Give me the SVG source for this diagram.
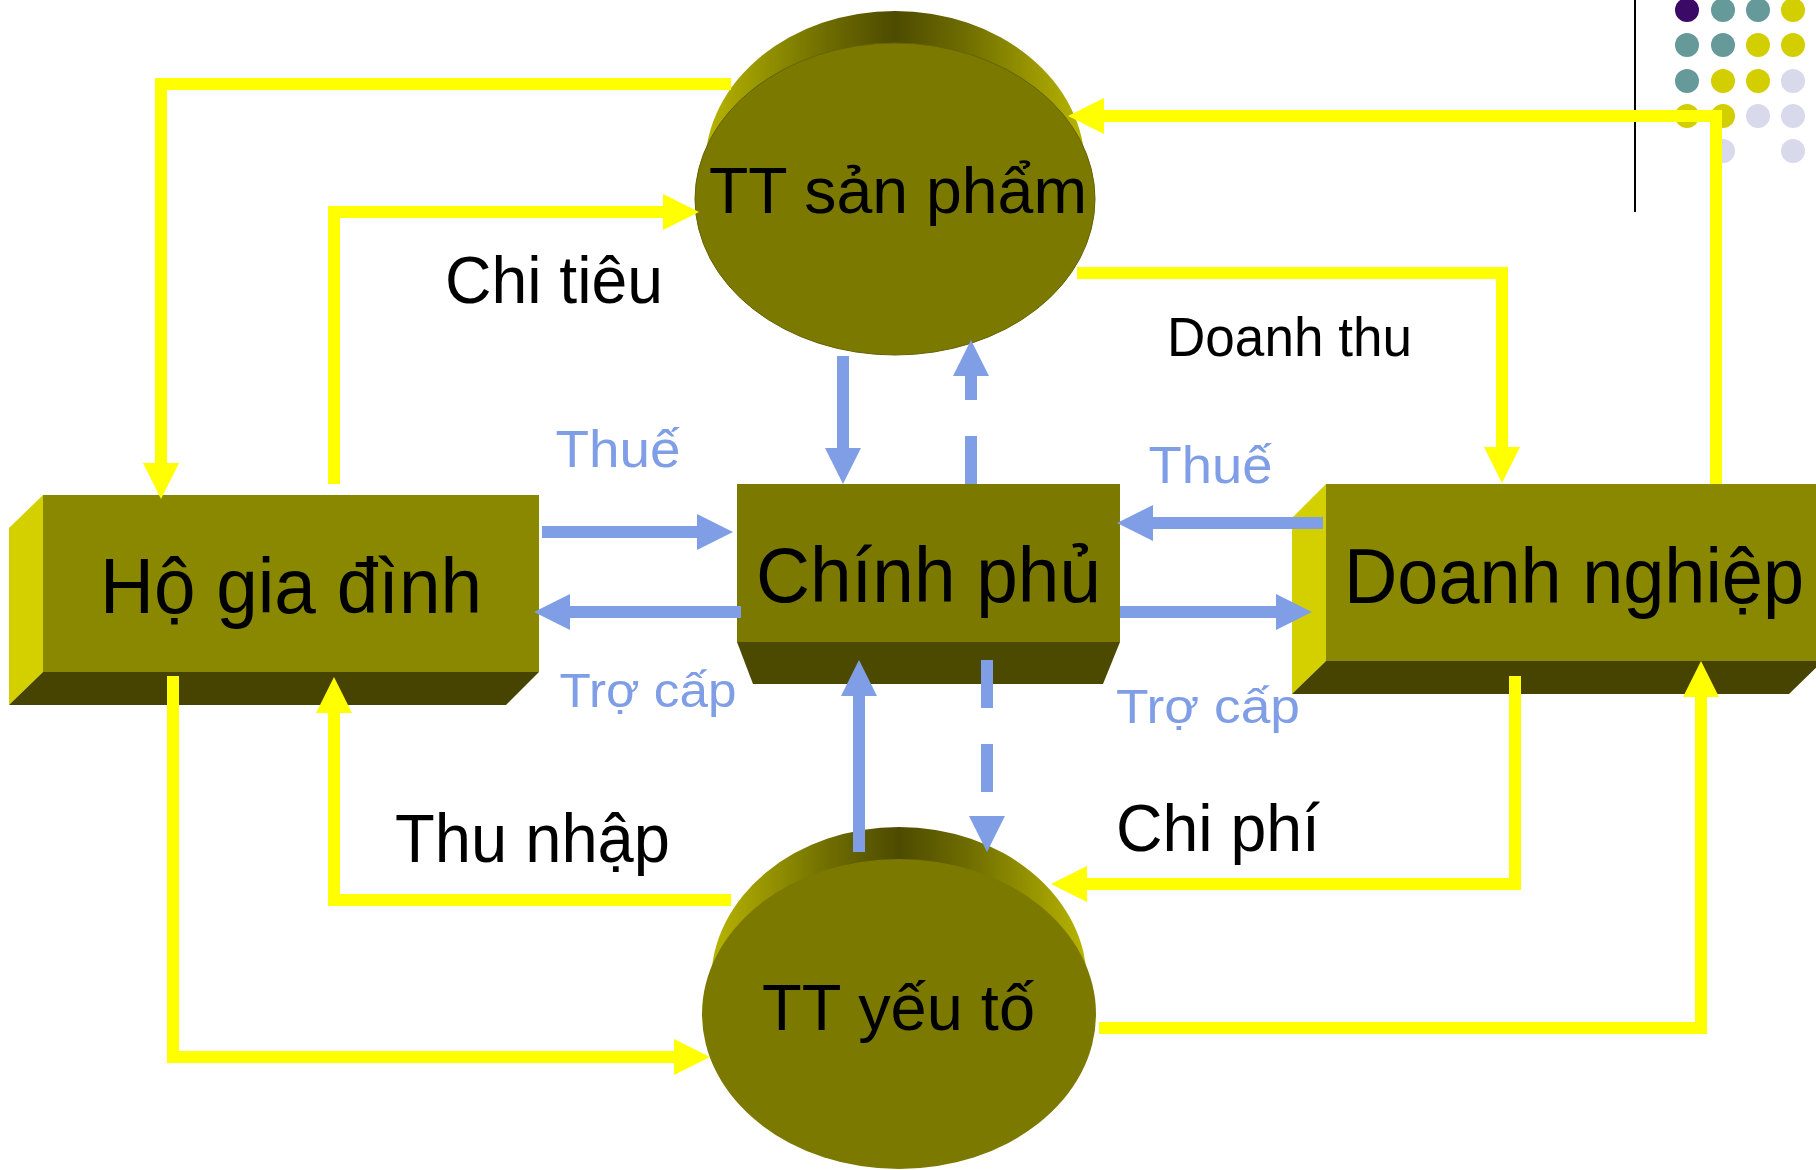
<svg xmlns="http://www.w3.org/2000/svg" width="1816" height="1170" viewBox="0 0 1816 1170">
<style>
  text { font-family: "Liberation Sans", Arial, sans-serif; text-anchor: middle; }
  .node { fill: #000000; }
  .blk { fill: #000000; }
  .blu { fill: #7f9ee6; }
  .y { stroke: #ffff00; stroke-width: 12; fill: none; stroke-linejoin: miter; marker-end: url(#ay); }
  .b { stroke: #7f9ee6; stroke-width: 12; fill: none; marker-end: url(#ab); }
  .d { stroke-dasharray: 48 36; }
  .side { fill: #d4d000; }
  .bot { fill: #464400; }
  .front { fill: #8a8800; }
</style>
<defs>
  <marker id="ay" markerUnits="userSpaceOnUse" markerWidth="36" markerHeight="36" viewBox="0 0 36 36" refX="0" refY="18" orient="auto">
    <path d="M0,0 L36,18 L0,36 z" fill="#ffff00"/>
  </marker>
  <marker id="ab" markerUnits="userSpaceOnUse" markerWidth="36" markerHeight="36" viewBox="0 0 36 36" refX="0" refY="18" orient="auto">
    <path d="M0,0 L36,18 L0,36 z" fill="#7f9ee6"/>
  </marker>
  <linearGradient id="cyl" x1="0" y1="0" x2="1" y2="0">
    <stop offset="0" stop-color="#b8b400"/>
    <stop offset="0.15" stop-color="#969400"/>
    <stop offset="0.32" stop-color="#6e6c00"/>
    <stop offset="0.5" stop-color="#4d4b00"/>
    <stop offset="0.68" stop-color="#6e6c00"/>
    <stop offset="0.85" stop-color="#969400"/>
    <stop offset="1" stop-color="#b8b400"/>
  </linearGradient>
</defs>
<rect x="0" y="0" width="1816" height="1170" fill="#ffffff"/>

<g id="decor">
  <line x1="1635" y1="0" x2="1635" y2="212" stroke="#000000" stroke-width="2"/>
  <circle cx="1687" cy="10" r="12" fill="#3a0a66"/>
  <circle cx="1723" cy="10" r="12" fill="#669999"/>
  <circle cx="1758" cy="10" r="12" fill="#669999"/>
  <circle cx="1793" cy="10" r="12" fill="#d2ce00"/>
  <circle cx="1687" cy="45" r="12" fill="#669999"/>
  <circle cx="1723" cy="45" r="12" fill="#669999"/>
  <circle cx="1758" cy="45" r="12" fill="#d2ce00"/>
  <circle cx="1793" cy="45" r="12" fill="#d2ce00"/>
  <circle cx="1687" cy="81" r="12" fill="#669999"/>
  <circle cx="1723" cy="81" r="12" fill="#d2ce00"/>
  <circle cx="1758" cy="81" r="12" fill="#d2ce00"/>
  <circle cx="1793" cy="81" r="12" fill="#d9d9ec"/>
  <circle cx="1687" cy="116" r="12" fill="#d2ce00"/>
  <circle cx="1723" cy="116" r="12" fill="#d2ce00"/>
  <circle cx="1758" cy="116" r="12" fill="#d9d9ec"/>
  <circle cx="1793" cy="116" r="12" fill="#d9d9ec"/>
  <circle cx="1723" cy="151" r="12" fill="#d9d9ec"/>
  <circle cx="1793" cy="151" r="12" fill="#d9d9ec"/>
</g>

<g id="tt-san-pham">
  <ellipse cx="895" cy="167" rx="190" ry="156" fill="url(#cyl)"/>
  <ellipse cx="895" cy="199" rx="200" ry="156" fill="#7b7900" stroke="#666400" stroke-width="1"/>
  <text x="898" y="213" font-size="65" textLength="378" lengthAdjust="spacingAndGlyphs" class="node">TT sản phẩm</text>
</g>

<g id="tt-yeu-to">
  <ellipse cx="899" cy="982" rx="188" ry="155" fill="url(#cyl)"/>
  <ellipse cx="899" cy="1014" rx="197" ry="155" fill="#7b7900"/>
  <text x="898.5" y="1030" font-size="65" textLength="273" lengthAdjust="spacingAndGlyphs" class="node">TT yếu tố</text>
</g>

<g id="ho-gia-dinh">
  <polygon class="side" points="9,528 43,495 43,672 9,705"/>
  <polygon class="bot" points="43,672 539,672 506,705 9,705"/>
  <rect class="front" x="43" y="495" width="496" height="177"/>
  <text x="291" y="613" font-size="77" textLength="382" lengthAdjust="spacingAndGlyphs" class="node">Hộ gia đình</text>
</g>

<g id="chinh-phu">
  <polygon fill="#4c4a00" points="737,642 1120,642 1103,684 753,684"/>
  <rect fill="#7b7900" x="737" y="484" width="383" height="158"/>
  <text x="928.5" y="602" font-size="77" textLength="345" lengthAdjust="spacingAndGlyphs" class="node">Chính phủ</text>
</g>

<g id="doanh-nghiep">
  <polygon class="side" points="1292,518 1326,484 1326,661 1292,694"/>
  <polygon class="bot" points="1326,661 1823,661 1789,694 1292,694"/>
  <rect class="front" x="1326" y="484" width="497" height="177"/>
  <text x="1574" y="603" font-size="77" textLength="460" lengthAdjust="spacingAndGlyphs" class="node">Doanh nghiệp</text>
</g>

<g id="connectors">
  <path class="y" d="M731,84 H161 V463"/>
  <path class="y" d="M334,484 V212 H663"/>
  <path class="y" d="M1716,484 V116 H1104"/>
  <path class="y" d="M1077,273 H1502 V447"/>
  <path class="y" d="M1515,676 V884 H1087"/>
  <path class="y" d="M1099,1028 H1701 V697"/>
  <path class="y" d="M731,900 H334 V713"/>
  <path class="y" d="M173,676 V1057 H674"/>
  <path class="b" d="M843,356 V448"/>
  <path class="b d" d="M971,484 V376"/>
  <path class="b" d="M859,852 V696"/>
  <path class="b d" d="M987,660 V816"/>
  <path class="b" d="M542,532 H697"/>
  <path class="b" d="M741,612 H570"/>
  <path class="b" d="M1323,523 H1153"/>
  <path class="b" d="M1120,612 H1276"/>
</g>

<g id="labels">
  <text x="554" y="303" font-size="67" textLength="218" lengthAdjust="spacingAndGlyphs" class="blk">Chi tiêu</text>
  <text x="1289.5" y="356" font-size="55" textLength="245" lengthAdjust="spacingAndGlyphs" class="blk">Doanh thu</text>
  <text x="532.5" y="862" font-size="68" textLength="275" lengthAdjust="spacingAndGlyphs" class="blk">Thu nhập</text>
  <text x="1218" y="851" font-size="67" textLength="204" lengthAdjust="spacingAndGlyphs" class="blk">Chi phí</text>
  <text x="618" y="467" font-size="52" textLength="125" lengthAdjust="spacingAndGlyphs" class="blu">Thuế</text>
  <text x="1210.5" y="483" font-size="52" textLength="124" lengthAdjust="spacingAndGlyphs" class="blu">Thuế</text>
  <text x="648" y="707" font-size="49" textLength="177" lengthAdjust="spacingAndGlyphs" class="blu">Trợ cấp</text>
  <text x="1208" y="723" font-size="49" textLength="184" lengthAdjust="spacingAndGlyphs" class="blu">Trợ cấp</text>
</g>
</svg>
